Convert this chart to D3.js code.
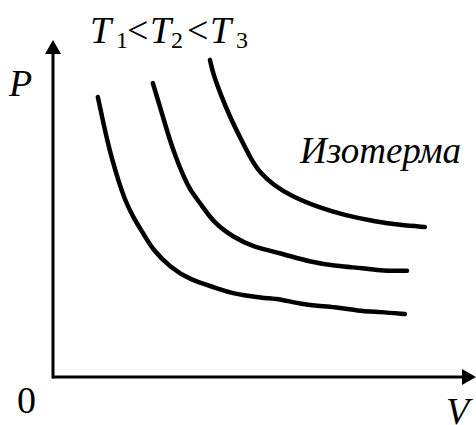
<!DOCTYPE html>
<html>
<head>
<meta charset="utf-8">
<script src="https://cdn.jsdelivr.net/npm/d3@7"></script>
<style>
  html, body { margin: 0; padding: 0; background: #fff; }
</style>
</head>
<body>
<div id="chart"></div>
<script>
// isotherm curves, V and P in arbitrary units
const t1V = [1.06, 1.16, 1.28, 1.40, 1.54, 1.70, 1.89, 2.13, 2.36, 2.77, 3.24, 3.88, 4.18, 4.97, 5.37, 5.91, 6.71, 7.19, 7.73, 8.32];
const t1P = [8.31, 7.72, 7.03, 6.44, 5.85, 5.25, 4.75, 4.27, 3.77, 3.26, 2.88, 2.64, 2.49, 2.34, 2.32, 2.14, 2.08, 1.96, 1.93, 1.87];

const t2V = [2.36, 2.48, 2.60, 2.74, 2.90, 3.09, 3.24, 3.48, 3.78, 4.26, 4.73, 5.37, 6.08, 6.71, 7.33, 7.80, 8.37];
const t2P = [8.72, 8.22, 7.72, 7.12, 6.53, 5.94, 5.55, 5.16, 4.60, 4.15, 3.86, 3.68, 3.41, 3.29, 3.23, 3.15, 3.15];

const t3V = [3.71, 3.78, 3.95, 4.18, 4.49, 4.73, 4.89, 5.20, 5.67, 6.31, 6.86, 7.66, 8.20, 8.79];
const t3P = [9.41, 9.02, 8.43, 7.72, 6.94, 6.35, 6.08, 5.70, 5.34, 5.02, 4.81, 4.60, 4.51, 4.45];

const curves = [[t1V, t1P], [t2V, t2P], [t3V, t3P]];

const width = 476, height = 425;
const serif = "Liberation Serif";

const svg = d3.select("#chart").append("svg")
  .attr("width", width)
  .attr("height", height);

const x = d3.scaleLinear().domain([0, 10]).range([53, 476]);
const y = d3.scaleLinear().domain([0, 10]).range([377, 40]);

const arrowLen = 14, arrowHalf = 8;

// axes
svg.append("line")
  .attr("x1", x(0)).attr("y1", y(0))
  .attr("x2", x(10) - arrowLen + 2).attr("y2", y(0))
  .attr("stroke", "#000").attr("stroke-width", 3);
svg.append("line")
  .attr("x1", x(0)).attr("y1", y(0) + 1.5)
  .attr("x2", x(0)).attr("y2", y(10) + arrowLen - 2)
  .attr("stroke", "#000").attr("stroke-width", 3);

svg.append("path")
  .attr("d", `M${x(10)},${y(0)} L${x(10) - arrowLen},${y(0) - arrowHalf} L${x(10) - arrowLen},${y(0) + arrowHalf} Z`)
  .attr("fill", "#000");
svg.append("path")
  .attr("d", `M${x(0)},${y(10)} L${x(0) - arrowHalf},${y(10) + arrowLen} L${x(0) + arrowHalf},${y(10) + arrowLen} Z`)
  .attr("fill", "#000");

// isotherms
const line = d3.line()
  .x(d => x(d[0]))
  .y(d => y(d[1]))
  .curve(d3.curveBasis);

svg.selectAll("path.iso")
  .data(curves)
  .enter()
  .append("path")
  .attr("class", "iso")
  .attr("d", c => line(c[0].map((v, i) => [v, c[1][i]])))
  .attr("fill", "none")
  .attr("stroke", "#000")
  .attr("stroke-width", 4.5)
  .attr("stroke-linecap", "round")
  .attr("stroke-linejoin", "round");

// labels
function label(tx, ty, size, italic, s) {
  return svg.append("text")
    .attr("x", tx).attr("y", ty)
    .attr("font-family", serif)
    .attr("font-size", size)
    .attr("font-style", italic ? "italic" : "normal")
    .attr("fill", "#000")
    .text(s);
}
label(9, 96, 38, true, "P");
label(17, 413, 38, false, "0");
label(446, 424, 38, true, "V");
label(300, 163, 37, true, "Изотерма");

// T1< T2 <T3
const title = svg.append("text").attr("y", 43)
  .attr("font-family", serif).attr("font-size", 38).attr("fill", "#000");
const parts = [
  { t: "T", x: 90, it: true },
  { t: "1", x: 116, sub: true },
  { t: "<", x: 127 },
  { t: "T", x: 150, it: true },
  { t: "2", x: 171, sub: true },
  { t: "<", x: 187 },
  { t: "T", x: 210, it: true },
  { t: "3", x: 236, sub: true }
];
parts.forEach(p => {
  title.append("tspan")
    .attr("x", p.x)
    .attr("y", p.sub ? 48 : 43)
    .attr("font-size", p.sub ? 24 : 38)
    .attr("font-style", p.it ? "italic" : "normal")
    .text(p.t);
});
</script>
</body>
</html>
